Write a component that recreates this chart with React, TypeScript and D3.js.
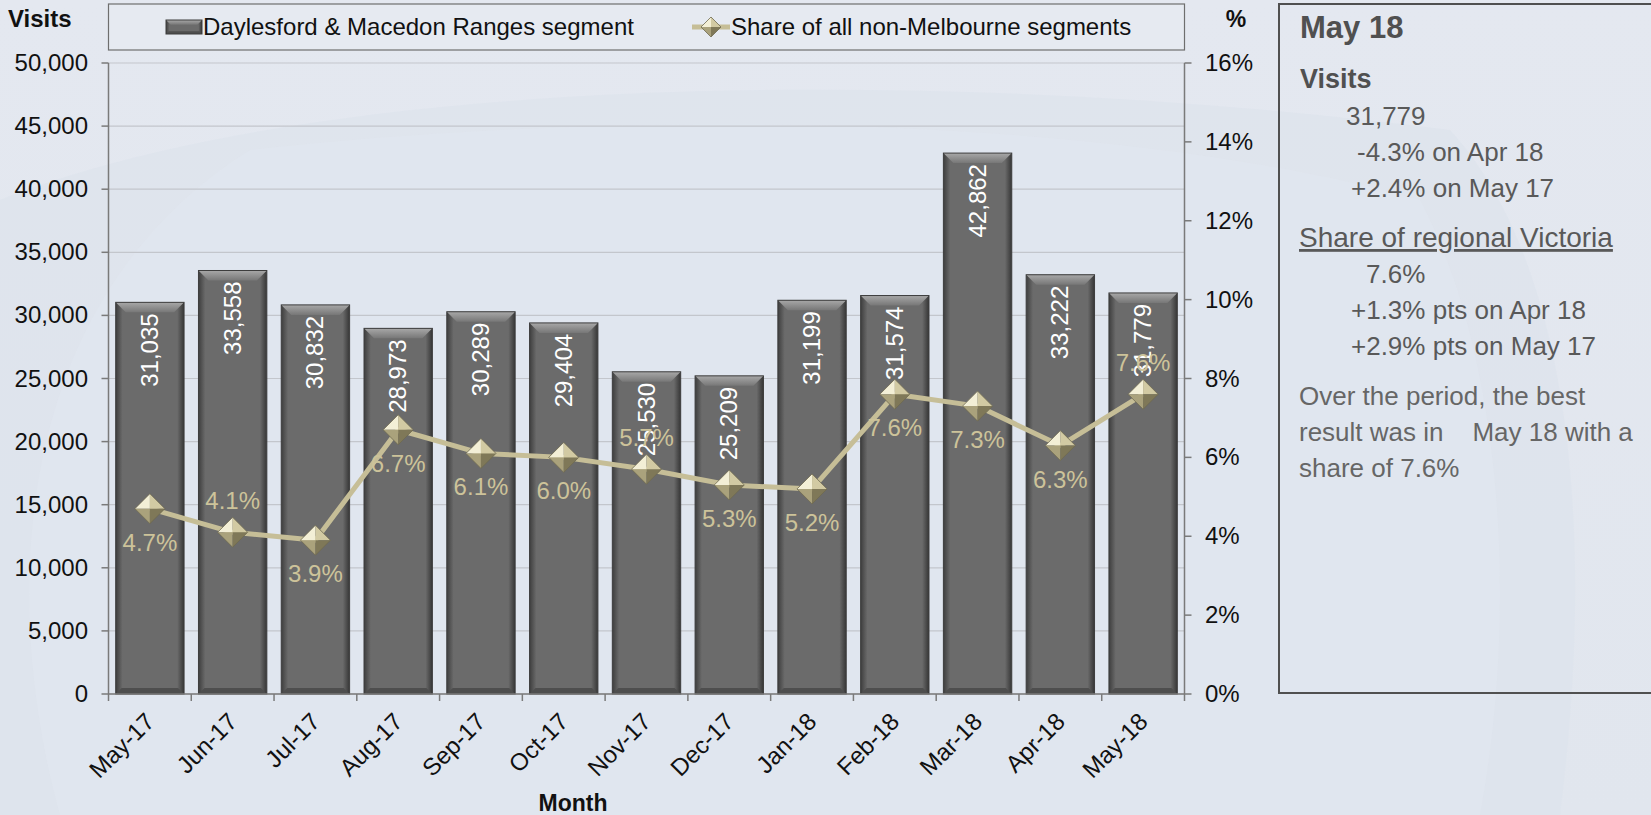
import React from "react";
import * as d3 from "d3";

const months = ["May-17","Jun-17","Jul-17","Aug-17","Sep-17","Oct-17","Nov-17","Dec-17","Jan-18","Feb-18","Mar-18","Apr-18","May-18"];
const visits = [31035,33558,30832,28973,30289,29404,25530,25209,31199,31574,42862,33222,31779];
const share = [4.7,4.1,3.9,6.7,6.1,6.0,5.7,5.3,5.2,7.6,7.3,6.3,7.6];
const shareLabelAbove = [false,true,false,false,false,false,true,false,false,false,false,false,true];
const leftTicks = [0,5000,10000,15000,20000,25000,30000,35000,40000,45000,50000];
const rightTicks = [0,2,4,6,8,10,12,14,16];

const barSeriesName = "Daylesford & Macedon Ranges segment";
const lineSeriesName = "Share of all non-Melbourne segments";

const panelTitle = "May 18";
const panelLines = [
  { text: "Visits", x: 1300, y: 88, bold: true, size: 27, color: "#505050" },
  { text: "31,779", x: 1346, y: 125, size: 26, color: "#595959" },
  { text: "-4.3% on Apr 18", x: 1357, y: 161, size: 26, color: "#595959" },
  { text: "+2.4% on May 17", x: 1351, y: 197, size: 26, color: "#595959" },
  { text: "Share of regional Victoria", x: 1299, y: 247, size: 28, color: "#595959", underline: true },
  { text: "7.6%", x: 1366, y: 283, size: 26, color: "#595959" },
  { text: "+1.3% pts on Apr 18", x: 1351, y: 319, size: 26, color: "#595959" },
  { text: "+2.9% pts on May 17", x: 1351, y: 355, size: 26, color: "#595959" },
  { text: "Over the period, the best", x: 1299, y: 405, size: 26, color: "#666" },
  { text: "result was in    May 18 with a", x: 1299, y: 441, size: 26, color: "#666" },
  { text: "share of 7.6%", x: 1299, y: 477, size: 26, color: "#666" },
];

const FONT = "'Liberation Sans', Arial, Helvetica, sans-serif";

export default function App() {
  const W = 1651, H = 815;
  const left = 108.5, right = 1184.5, top = 63, bottom = 694;
  const x = d3.scaleBand<string>().domain(months).range([left, right]).paddingInner(0.174).paddingOuter(0.087);
  const y = d3.scaleLinear().domain([0, 50000]).range([bottom, top]);
  const y2 = d3.scaleLinear().domain([0, 16]).range([bottom, top]);
  const bw = x.bandwidth();
  const step = x.step();
  const fmt = d3.format(",");
  const lineGen = d3.line<number>().x((_, i) => (x(months[i]) as number) + bw / 2).y((d) => y2(d));

  const diamond = (cx: number, cy: number, r: number, key: string | number) => (
    <g key={key}>
      <polygon points={`${cx},${cy - r} ${cx - r},${cy} ${cx},${cy}`} fill="#f3efd6" />
      <polygon points={`${cx},${cy - r} ${cx + r},${cy} ${cx},${cy}`} fill="#d2caa3" />
      <polygon points={`${cx - r},${cy} ${cx},${cy + r} ${cx},${cy}`} fill="#aaa27c" />
      <polygon points={`${cx + r},${cy} ${cx},${cy + r} ${cx},${cy}`} fill="#7f7858" />
      <polygon points={`${cx},${cy - r} ${cx + r},${cy} ${cx},${cy + r} ${cx - r},${cy}`} fill="none" stroke="#6f6a50" strokeWidth={0.8} />
    </g>
  );

  const bar = (bx: number, by: number, w: number, h: number, key: string | number) => {
    const b = Math.min(10, h / 3);
    return (
      <g key={key}>
        <rect x={bx} y={by} width={w} height={h} fill="url(#barBody)" />
        <polygon points={`${bx},${by} ${bx + w},${by} ${bx + w - b},${by + b} ${bx + b},${by + b}`} fill="url(#barTop)" />
        <polygon points={`${bx},${by + h} ${bx + w},${by + h} ${bx + w - b * 0.6},${by + h - b * 0.6} ${bx + b * 0.6},${by + h - b * 0.6}`} fill="#4e4e4e" />
        <rect x={bx} y={by} width={w} height={h} fill="none" stroke="#3d3d3d" strokeWidth={1} />
      </g>
    );
  };

  return (
    <svg width={W} height={H} style={{ position: "absolute", left: 0, top: 0, fontFamily: FONT }}>
      <defs>
        <linearGradient id="barBody" x1="0" x2="1" y1="0" y2="0">
          <stop offset="0" stopColor="#3e3e3e" />
          <stop offset="0.1" stopColor="#6b6b6b" />
          <stop offset="0.9" stopColor="#6b6b6b" />
          <stop offset="1" stopColor="#363636" />
        </linearGradient>
        <linearGradient id="barTop" x1="0" x2="0" y1="0" y2="1">
          <stop offset="0" stopColor="#a8a8a8" />
          <stop offset="1" stopColor="#777" />
        </linearGradient>
        <linearGradient id="bgGrad" x1="0" x2="0" y1="0" y2="1">
          <stop offset="0" stopColor="#e4e8f0" />
          <stop offset="1" stopColor="#e1e6ee" />
        </linearGradient>
      </defs>
      <rect x={0} y={0} width={W} height={H} fill="url(#bgGrad)" />
      <path d="M0,200 C300,80 900,60 1450,130 C1560,250 1600,500 1560,815 L0,815 Z" fill="#dde3ec" opacity={0.8} />
      <path d="M60,815 C0,600 10,300 250,150 C600,110 1100,110 1420,200 C1500,350 1520,600 1480,815 Z" fill="#e0e5ee" opacity={0.9} />

      {leftTicks.map((t) => (
        <line key={"g" + t} x1={left} x2={right} y1={y(t)} y2={y(t)} stroke="#c3c6cc" strokeWidth={1.2} />
      ))}

      {visits.map((v, i) => bar(x(months[i]) as number, y(v), bw, bottom - y(v), "b" + i))}

      {visits.map((v, i) => {
        const cx = (x(months[i]) as number) + bw / 2 + 8;
        const ty = y(v) + 11;
        return (
          <text key={"bl" + i} transform={`translate(${cx},${ty}) rotate(-90)`} textAnchor="end" fontSize={24} fill="#ffffff">
            {fmt(v)}
          </text>
        );
      })}

      <path d={lineGen(share) || ""} fill="none" stroke="#c6be97" strokeWidth={5} strokeLinejoin="round" />
      {share.map((s, i) => diamond((x(months[i]) as number) + bw / 2, y2(s), 15, "d" + i))}
      {share.map((s, i) => (
        <text key={"sl" + i} x={(x(months[i]) as number) + bw / 2} y={y2(s) + (shareLabelAbove[i] ? -23 : 42)} textAnchor="middle" fontSize={24} fill="#cdc39a">
          {s.toFixed(1) + "%"}
        </text>
      ))}

      <line x1={left} x2={left} y1={top} y2={bottom} stroke="#7a7a7a" strokeWidth={1.5} />
      <line x1={right} x2={right} y1={top} y2={bottom} stroke="#7a7a7a" strokeWidth={1.5} />
      <line x1={left} x2={right} y1={bottom} y2={bottom} stroke="#7a7a7a" strokeWidth={1.5} />
      {leftTicks.map((t) => (
        <g key={"lt" + t}>
          <line x1={left - 7} x2={left} y1={y(t)} y2={y(t)} stroke="#7a7a7a" strokeWidth={1.5} />
          <text x={88} y={y(t) + 8} textAnchor="end" fontSize={24} fill="#111">{fmt(t)}</text>
        </g>
      ))}
      {rightTicks.map((t) => (
        <g key={"rt" + t}>
          <line x1={right} x2={right + 7} y1={y2(t)} y2={y2(t)} stroke="#7a7a7a" strokeWidth={1.5} />
          <text x={1205} y={y2(t) + 8} textAnchor="start" fontSize={24} fill="#111">{t + "%"}</text>
        </g>
      ))}
      {d3.range(months.length + 1).map((i) => (
        <line key={"xt" + i} x1={left + i * step} x2={left + i * step} y1={bottom} y2={bottom + 7} stroke="#7a7a7a" strokeWidth={1.5} />
      ))}
      {months.map((m) => {
        const cx = (x(m) as number) + bw / 2 + 6;
        return (
          <text key={"xl" + m} transform={`translate(${cx},${723}) rotate(-45)`} textAnchor="end" fontSize={24} fill="#111">
            {m}
          </text>
        );
      })}
      <text x={573} y={811} textAnchor="middle" fontSize={23} fontWeight="bold" fill="#111">Month</text>
      <text x={8} y={27} fontSize={24} fontWeight="bold" fill="#111">Visits</text>
      <text x={1236} y={27} textAnchor="middle" fontSize={23} fontWeight="bold" fill="#111">%</text>

      <rect x={left} y={4} width={right - left} height={46} fill="#e6eaf1" stroke="#6e6e6e" strokeWidth={1.2} />
      {bar(166, 20, 36, 14, "legbar")}
      <text x={203} y={35} fontSize={24} fill="#111">{barSeriesName}</text>
      <line x1={692} x2={730} y1={27} y2={27} stroke="#c6be97" strokeWidth={5} />
      {diamond(711, 27, 10, "legd")}
      <text x={731} y={35} fontSize={24} fill="#111">{lineSeriesName}</text>

      <rect x={1279} y={4} width={420} height={689} fill="none" stroke="#505050" strokeWidth={2} />
      <text x={1300} y={38} fontSize={31} fontWeight="bold" fill="#505050">{panelTitle}</text>
      {panelLines.map((l, i) => (
        <text key={"p" + i} x={l.x} y={l.y} fontSize={l.size} fontWeight={l.bold ? "bold" : "normal"} fill={l.color} textDecoration={l.underline ? "underline" : undefined} style={{ whiteSpace: "pre" }}>
          {l.text}
        </text>
      ))}
    </svg>
  );
}
